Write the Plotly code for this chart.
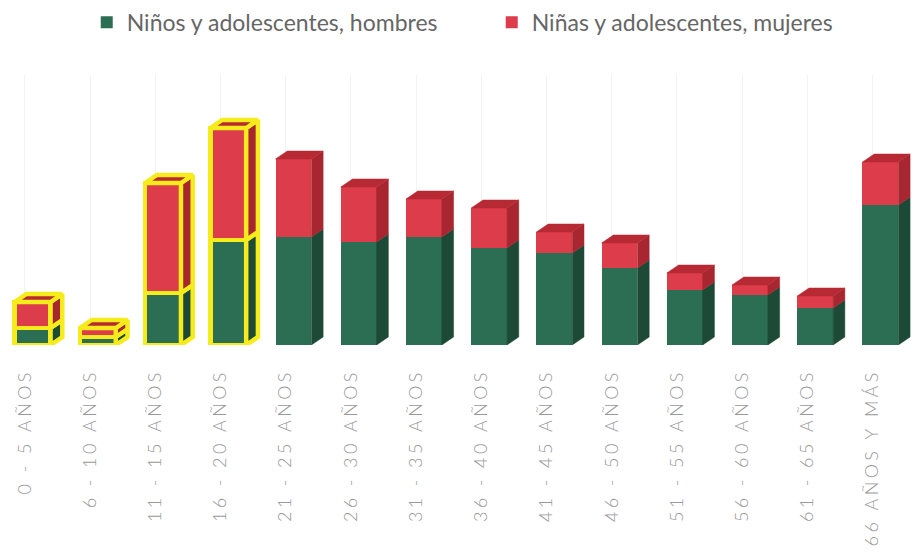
import plotly.graph_objects as go

categories = ["0 - 5 AÑOS", "6 - 10 AÑOS", "11 - 15 AÑOS", "16 - 20 AÑOS", "21 - 25 AÑOS",
              "26 - 30 AÑOS", "31 - 35 AÑOS", "36 - 40 AÑOS", "41 - 45 AÑOS", "46 - 50 AÑOS",
              "51 - 55 AÑOS", "56 - 60 AÑOS", "61 - 65 AÑOS", "66 AÑOS Y MÁS"]
hombres = [17, 8, 52, 105, 108, 103, 108, 97, 92, 77, 55, 50, 37, 140]
mujeres = [26, 9, 110, 112, 78, 55, 38, 40, 21, 25, 17, 10, 12, 43]
highlighted = [True, True, True, True, False, False, False, False, False, False, False, False, False, False]
series_names = ["Niños y adolescentes, hombres", "Niñas y adolescentes, mujeres"]

GREEN = "#2B6E53"
GREEN_SIDE = "#1D4A37"
RED = "#DD3D4A"
RED_SIDE = "#A8262F"
RED_TOP = "#B72A34"
YELLOW = "#F7EC1B"

BAR_W = 0.55
DX = 0.18
DY = 8

xs = list(range(len(categories)))
line_w = [4.5 if h else 0 for h in highlighted]
line_c = [YELLOW if h else "rgba(0,0,0,0)" for h in highlighted]

fig = go.Figure()
# legend-only entries (plain squares)
for nm, col in zip(series_names, [GREEN, RED]):
    fig.add_trace(go.Bar(x=[None], y=[None], name=nm, marker=dict(color=col, line=dict(width=0)),
                         showlegend=True))

fig.add_trace(go.Bar(x=xs, y=hombres, name=series_names[0], width=BAR_W, showlegend=False,
                     marker=dict(color=GREEN, line=dict(color=line_c, width=line_w))))
fig.add_trace(go.Bar(x=xs, y=mujeres, name=series_names[1], width=BAR_W, showlegend=False,
                     marker=dict(color=RED, line=dict(color=line_c, width=line_w))))


def poly(px, py, fill, hl):
    fig.add_trace(go.Scatter(
        x=px + [px[0]], y=py + [py[0]], mode="lines", fill="toself", fillcolor=fill,
        line=dict(color=YELLOW if hl else fill, width=4.5 if hl else 0.5),
        showlegend=False, hoverinfo="skip", cliponaxis=False))


for i, (g, r, hl) in enumerate(zip(hombres, mujeres, highlighted)):
    x1 = i + BAR_W / 2
    x0 = i - BAR_W / 2
    t = g + r
    # side faces
    poly([x1, x1, x1 + DX, x1 + DX], [0, g, g + DY, DY], GREEN_SIDE, hl)
    poly([x1, x1, x1 + DX, x1 + DX], [g, t, t + DY, g + DY], RED_SIDE, hl)
    # top face
    poly([x0, x1, x1 + DX, x0 + DX], [t, t, t + DY, t + DY], RED_TOP, hl)

tick_text = ["\u2009\u200A".join(list(c)) for c in categories]

fig.update_layout(
    barmode="stack",
    width=921, height=556,
    paper_bgcolor="white", plot_bgcolor="white",
    margin=dict(l=0, r=8, t=75, b=211, autoexpand=False),
    showlegend=True,
    legend=dict(orientation="h", x=0.095, xanchor="left", y=0.96, yref="container", yanchor="middle",
                font=dict(family="Lato, sans-serif", size=23, color="#666666"),
                traceorder="normal", entrywidth=360, entrywidthmode="pixels"),
    xaxis=dict(range=[-0.5, 13.5], tickmode="array", tickvals=[i - 0.12 for i in xs],
               ticktext=tick_text, tickangle=-90, showgrid=True, gridcolor="#F2F2F2",
               gridwidth=1, zeroline=False, showline=False, ticks="",
               ticklabelstandoff=23,
               tickfont=dict(family="Lato, sans-serif", size=18, color="#999999", weight=300)),
    yaxis=dict(range=[0, 270], visible=False, showgrid=False, zeroline=False),
)

fig.write_html("out.html", post_script="document.body.style.margin='0';",
               config={"displayModeBar": False})
